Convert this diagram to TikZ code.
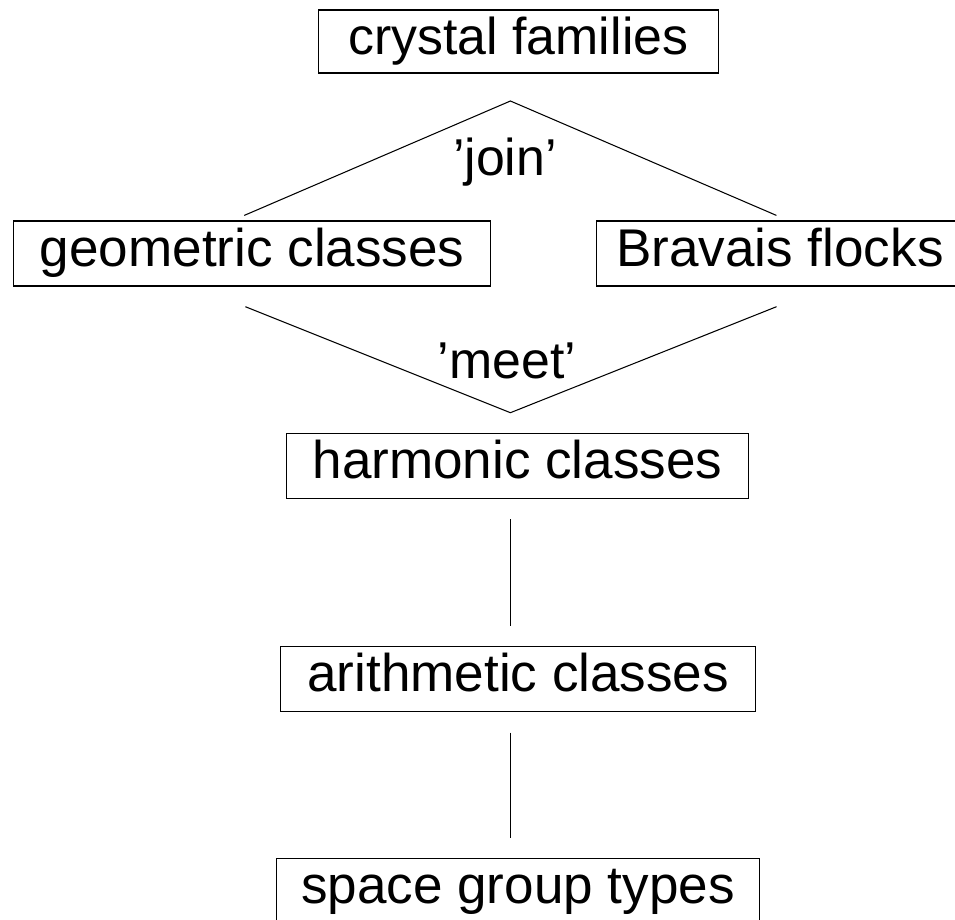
\documentclass[tikz,border=0pt]{standalone}
\usepackage{fontspec}
\setmainfont{Liberation Sans}

\begin{document}
\begin{tikzpicture}[x=0.02cm, y=0.02cm]
                \tikzstyle{every node}+=[inner sep=0pt]
                \tikzstyle{cls}=[draw, black, line width=0.6pt, font=\fontsize{30.2}{36}\selectfont, text height=0.9cm, text depth=0.4cm]
                \tikzstyle{op}=[font=\fontsize{29.5}{35}\selectfont, anchor=base]
                \useasboundingbox (0,0) rectangle (955,-919);
                % the classes
                \node [cls, minimum width=7.99cm, text depth=0.36cm, font=\fontsize{29.5}{35}\selectfont] (families) at (518.4,-41.5) {crystal families};
                \node [cls, minimum width=9.55cm] (geometric) at (252.2,-253.5) {geometric classes};
                \node [cls, minimum width=7.36cm] (flocks) at (780,-253.5) {Bravais flocks};
                \node [cls, minimum width=9.26cm] (harmonic) at (517.5,-466) {harmonic classes};
                \node [cls, minimum width=9.5cm] (arithmetic) at (518.2,-679) {arithmetic classes};
                \node [cls, minimum width=9.68cm] (spacegroups) at (518,-891.2) {space group types};
                % ends of the lines
                \coordinate (jointop) at (510.4,-101);
                \coordinate (joinleft) at (244.3,-215.4);
                \coordinate (joinright) at (776.4,-215.4);
                \coordinate (meetleft) at (245.4,-306.7);
                \coordinate (meetbottom) at (510.4,-412.7);
                \coordinate (meetright) at (776.5,-306.7);
                \coordinate (harmdown) at (510.7,-519.3);
                \coordinate (aritup) at (510.7,-625.7);
                \coordinate (aritdown) at (510.7,-732.7);
                \coordinate (spaceup) at (510.7,-838.3);
                \draw [black, line width=0.6pt] (joinleft) -- (jointop) -- (joinright);
                \node [op] (join) at (505,-175) {'join'};
                \draw [black, line width=0.6pt] (meetleft) -- (meetbottom) -- (meetright);
                \node [op] (meet) at (507,-378) {'meet'};
                \draw [black, line width=0.6pt] (harmdown) -- (aritup);
                \draw [black, line width=0.6pt] (aritdown) -- (spaceup);
            \end{tikzpicture}
\end{document}
